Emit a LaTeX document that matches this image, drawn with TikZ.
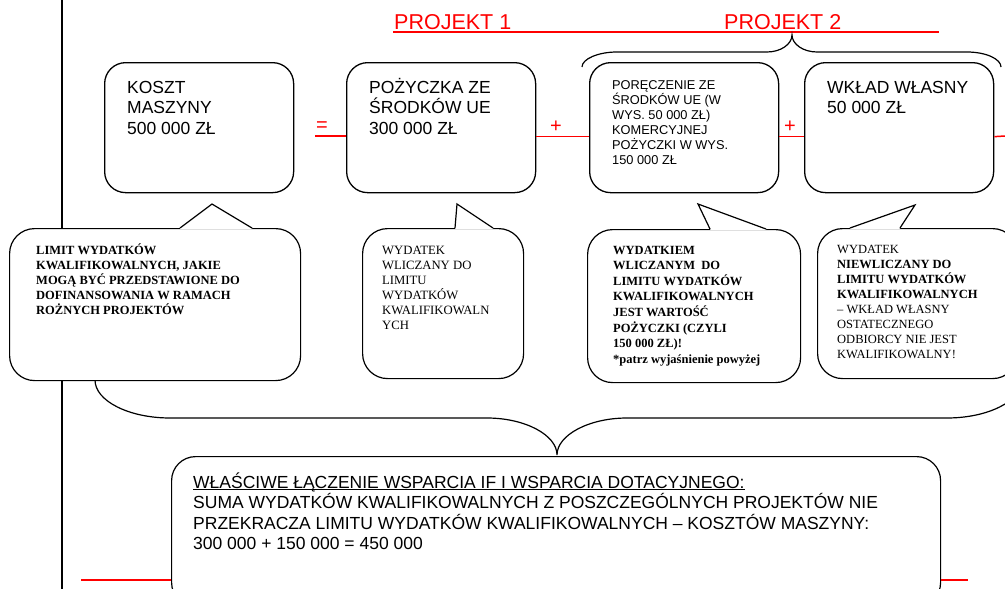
\documentclass[tikz,border=0pt]{standalone}
\usepackage{fontspec}
\setmainfont{Liberation Serif}
\setsansfont{Liberation Sans}
\newcommand\tblock[3]{\parbox[t]{800pt}{\fontsize{#1}{#2}\selectfont #3}}
\newcommand\myul[1]{\leavevmode\setbox0\hbox{#1}\rlap{\rule[-2.2pt]{\wd0}{1.1pt}}\box0}
\newcommand\callptr[5]{%
  \fill[white] (#1,#3+0.9) -- (#1,#3-1) -- (#4,#5) -- (#2,#3-1) -- (#2,#3+0.9) -- cycle;
  \draw[ptrs] (#1,#3) -- (#4,#5) -- (#2,#3);}
\tikzset{
  boxs/.style={draw, line width=1.3pt, rounded corners=21pt, fill=white,
    minimum width=189pt, minimum height=130pt, anchor=north west, inner sep=0pt},
  calls/.style={draw, line width=1.2pt, rounded corners=25pt, fill=white,
    anchor=north west, inner sep=0pt},
  txt/.style={anchor=base west, inner sep=0pt},
  redl/.style={red, line width=1.5pt},
  brc/.style={black, line width=1.2pt},
  ptrs/.style={line width=1.2pt, line cap=round, line join=miter},
  sign/.style={red, font=\sffamily\fontsize{20}{22}\selectfont, inner sep=0pt}
}
\begin{document}
\begin{tikzpicture}[x=1pt,y=-1pt]
\useasboundingbox (0,0) rectangle (1005,589);
\clip (0,0) rectangle (1005,589);

% vertical black line
\coordinate (vt) at (62,0);
\coordinate (vb) at (62,589);
\draw[line width=2pt] (vt) -- (vb);

% PROJEKT labels and red line
\coordinate (pl) at (393,32);
\coordinate (pr) at (939,32);
\draw[redl] (pl) -- (pr);
\node[txt, red, font=\sffamily\fontsize{21.5}{24}\selectfont] (p1) at (394,30) {PROJEKT 1};
\node[txt, red, font=\sffamily\fontsize{21.5}{24}\selectfont] (p2) at (724,30) {PROJEKT 2};

% top brace over boxes 3 and 4
\draw[brc] (582,67) .. controls (582,59) and (598,52) .. (617,52) -- (767,52)
  .. controls (781,52) and (792,44) .. (792,35)
  .. controls (792,44) and (803,52) .. (817,52) -- (967,52)
  .. controls (986,52) and (1001,59) .. (1001,67);

% bottom brace
\draw[brc] (95,380) .. controls (95,401) and (129,418) .. (170,418) -- (487,418)
  .. controls (525,418) and (557,435) .. (557,455)
  .. controls (557,435) and (589,418) .. (627,418) -- (947,418)
  .. controls (988,418) and (1022,401) .. (1022,380);

% boxes
\node[boxs] (b1) at (104,62) {};
\node[boxs] (b2) at (346,62) {};
\node[boxs] (b3) at (589,62) {};
\node[boxs] (b4) at (804,62) {};

% red connecting lines and signs
\coordinate (eq) at (315,136);
\draw[redl] (eq) -- (eq -| b2.west);
\draw[redl] ([yshift=-9pt]b2.east) -- ([yshift=-9pt]b3.west);
\draw[redl] ([yshift=-9pt]b3.east) -- ([yshift=-9pt]b4.west);
\coordinate (re) at (1005,136);
\draw[redl] ([yshift=-9pt]b4.east) -- (re);
\node[sign] (s1) at (322,127) {=};
\node[sign] (s2) at (556,127) {+};
\node[sign] (s3) at (790,127) {+};

% box texts
\node[txt, font=\sffamily] (t1) at (127,93) {\tblock{17.5}{20.5}{KOSZT\\MASZYNY\\500 000 ZŁ}};
\node[txt, font=\sffamily] (t2) at (369,93) {\tblock{17.5}{20.5}{POŻYCZKA ZE\\ŚRODKÓW UE\\300 000 ZŁ}};
\node[txt, font=\sffamily] (t3) at (612,89) {\tblock{12.8}{15}{PORĘCZENIE ZE\\ŚRODKÓW UE (W\\WYS. 50 000 ZŁ)\\KOMERCYJNEJ\\POŻYCZKI W WYS.\\150 000 ZŁ}};
\node[txt, font=\sffamily] (t4) at (827,93) {\tblock{17.5}{20.5}{WKŁAD WŁASNY\\50 000 ZŁ}};

% callouts
\node[calls, minimum width=291pt, minimum height=152pt] (c1) at (9,228) {};
\callptr{180}{252}{228}{212}{204}
\node[calls, minimum width=161pt, minimum height=150pt] (c2) at (362,228) {};
\callptr{455}{493}{228}{457}{204}
\node[calls, minimum width=213pt, minimum height=153pt] (c3) at (587,229) {};
\callptr{710}{766}{229}{698}{204}
\node[calls, minimum width=200pt, minimum height=150pt] (c4) at (817,228) {};
\callptr{850}{900}{228}{915}{205}

\node[txt] (ct1) at (36,254) {\tblock{12.5}{15}{\bfseries LIMIT WYDATKÓW\\KWALIFIKOWALNYCH, JAKIE\\MOGĄ BYĆ PRZEDSTAWIONE DO\\DOFINANSOWANIA W RAMACH\\ROŻNYCH PROJEKTÓW}};
\node[txt] (ct2) at (382,254) {\tblock{12.7}{15}{WYDATEK\\WLICZANY DO\\LIMITU\\WYDATKÓW\\KWALIFIKOWALN\\YCH}};
\node[txt] (ct3) at (613,254) {\tblock{12.5}{15.6}{\bfseries WYDATKIEM\\WLICZANYM~ DO\\LIMITU WYDATKÓW\\KWALIFIKOWALNYCH\\JEST WARTOŚĆ\\POŻYCZKI (CZYLI\\150 000 ZŁ)!\\{*}patrz wyjaśnienie powyżej}};
\node[txt] (ct4) at (837,253) {\tblock{12.5}{15}{WYDATEK\\\textbf{NIEWLICZANY DO}\\\textbf{LIMITU WYDATKÓW}\\\textbf{KWALIFIKOWALNYCH}\\– WKŁAD WŁASNY\\OSTATECZNEGO\\ODBIORCY NIE JEST\\KWALIFIKOWALNY!}};

% bottom box
\coordinate (rl1) at (81,580);
\coordinate (rl2) at (968,580);
\node[calls, rounded corners=24pt, minimum width=769pt, minimum height=150pt] (bb) at (171,456) {};
\draw[redl] (rl1) -- (rl1 -| bb.west);
\draw[redl] (rl2 -| bb.east) -- (rl2);
\node[txt, font=\sffamily] (bt) at (193,488) {\tblock{17.5}{20.5}{\myul{WŁAŚCIWE ŁĄCZENIE WSPARCIA IF I WSPARCIA DOTACYJNEGO:}\\SUMA WYDATKÓW KWALIFIKOWALNYCH Z POSZCZEGÓLNYCH PROJEKTÓW NIE\\PRZEKRACZA LIMITU WYDATKÓW KWALIFIKOWALNYCH – KOSZTÓW MASZYNY:\\300 000 + 150 000 = 450 000}};
\end{tikzpicture}
\end{document}
